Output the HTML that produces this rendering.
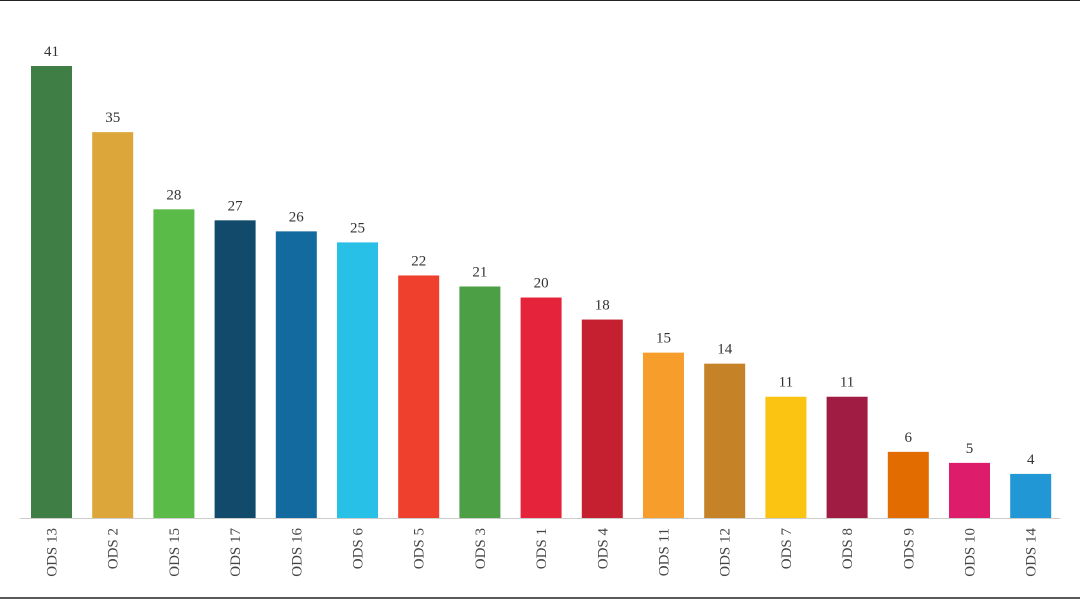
<!DOCTYPE html>
<html><head><meta charset="utf-8"><style>
html,body{margin:0;padding:0;background:#fff;}
svg{display:block;font-family:"Liberation Serif",serif;}
</style></head><body>
<svg id="chart" width="1080" height="599" viewBox="0 0 1080 599" xmlns="http://www.w3.org/2000/svg">
<line x1="0" y1="0.5" x2="1080" y2="0.5" stroke="#222" stroke-width="1"/>
<line x1="0" y1="598" x2="1080" y2="598" stroke="#222" stroke-width="1.5"/>
<g id="bars"></g>
<line x1="20" y1="518.5" x2="1060" y2="518.5" stroke="#ccc" stroke-width="1"/>
</svg>
<script>
const categories = ["ODS 13","ODS 2","ODS 15","ODS 17","ODS 16","ODS 6","ODS 5","ODS 3","ODS 1","ODS 4","ODS 11","ODS 12","ODS 7","ODS 8","ODS 9","ODS 10","ODS 14"];
const values = [41,35,28,27,26,25,22,21,20,18,15,14,11,11,6,5,4];
const colors = ["#3f7e44","#dda63a","#56c02b","#19486a","#136a9f","#26bde2","#ef402b","#4c9f38","#e5243b","#c5192d","#fd9d24","#bf8b2e","#fcc30b","#a21942","#fd6925","#dd1367","#0a97d9"];
const colorsAdj = ["#3f7e44","#dda63a","#5bbb48","#124a6b","#136a9f","#28c0e6","#ef402d","#4c9f45","#e5243b","#c5202f","#f79d2b","#c68227","#fbc412","#a11c43","#e36c00","#dd1c6b","#2197d5"];
const NS="http://www.w3.org/2000/svg";
const baseY=518, topY=66, maxV=41;
function y(v){return baseY-(baseY-topY)*v/maxV;}
function xc(i){return 51.5+i*61.2;}
const g=document.getElementById('bars');
values.forEach((v,i)=>{
  const r=document.createElementNS(NS,'rect');
  
  
  r.setAttribute('x',xc(i)-20.5);r.setAttribute('width',41);
  r.setAttribute('y',y(v));r.setAttribute('height',baseY-y(v));
  r.setAttribute('fill',colorsAdj[i]);
  g.appendChild(r);
  const t=document.createElementNS(NS,'text');
  
  
  t.setAttribute('x',xc(i));t.setAttribute('y',y(v)-10);
  t.setAttribute('text-anchor','middle');t.setAttribute('font-size','15');t.setAttribute('fill','#333');
  t.textContent=v;g.appendChild(t);
  const l=document.createElementNS(NS,'text');
  
  
  l.setAttribute('transform','translate('+(xc(i)+5)+',528) rotate(-90)');
  l.setAttribute('text-anchor','end');l.setAttribute('font-size','15');l.setAttribute('fill','#444');
  l.textContent=categories[i];g.appendChild(l);
});
</script>
</body></html>
